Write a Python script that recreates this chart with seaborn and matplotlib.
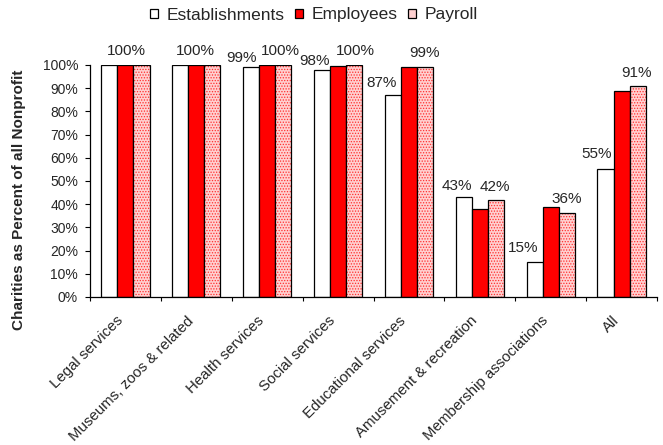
import matplotlib
matplotlib.use("Agg")
import matplotlib.pyplot as plt
import seaborn as sns
import pandas as pd
import numpy as np

categories = ["Legal services", "Museums, zoos & related", "Health services",
              "Social services", "Educational services", "Amusement & recreation",
              "Membership associations", "All"]
establishments = [100, 100, 99, 98, 87, 43, 15, 55]
employees = [100, 100, 100, 99.6, 99, 38, 39, 89]
payroll = [100, 100, 100, 100, 99, 42, 36, 91]
series = ["Establishments", "Employees", "Payroll"]
y_ticks = [0, 10, 20, 30, 40, 50, 60, 70, 80, 90, 100]

# value labels: (category index, series index, x shift px, gap above bar px)
labelled = [(0, 1, 1, 10), (1, 1, -1, 10), (2, 0, -10, 5), (2, 2, -3, 10),
            (3, 0, -7, 5), (3, 2, 1, 10), (4, 0, -11, 8), (4, 2, -1, 10),
            (5, 0, -7, 7), (5, 2, -1, 9), (6, 0, -11, 10), (6, 2, 0, 10),
            (7, 0, -9, 11), (7, 2, -1, 9)]

sns.set_theme(style="white")
plt.rcParams["font.family"] = ["Liberation Sans", "DejaVu Sans"]
plt.rcParams["hatch.linewidth"] = 0.6

df = pd.DataFrame({
    "category": categories * 3,
    "series": [s for s in series for _ in categories],
    "value": establishments + employees + payroll,
})

fig = plt.figure(figsize=(6.63, 4.45), dpi=100)
ax = fig.add_axes([90 / 663, 1 - 297 / 445, 567 / 663, 232 / 445])

palette = {"Establishments": "white", "Employees": "#ff0000", "Payroll": "#ffd0d0"}
sns.barplot(data=df, x="category", y="value", hue="series", order=categories,
            hue_order=series, palette=palette, width=0.68, gap=0,
            edgecolor="black", linewidth=0.9, saturation=1, ax=ax, legend=True)

# fine red dotted fill for the payroll bars
for bar in ax.containers[2]:
    bar.set_hatch("......")
    bar._hatch_color = matplotlib.colors.to_rgba("#ff3030")

values = [establishments, employees, payroll]
for ci, si, dx, gap in labelled:
    bar = ax.containers[si][ci]
    x = bar.get_x() + bar.get_width() / 2
    v = values[si][ci]
    ax.annotate(f"{round(v):d}%", xy=(x, bar.get_height()), xytext=(dx, gap),
                textcoords="offset pixels", ha="center", va="baseline",
                fontsize=11, annotation_clip=False)

ax.set_ylim(0, 100)
ax.set_xlim(-0.5, len(categories) - 0.5)
ax.set_yticks(y_ticks)
ax.set_yticklabels([f"{t}%" for t in y_ticks], fontsize=10)
# rotated category names sit slightly left of each group centre
ax.set_xticks(np.arange(len(categories)) - 0.14)
ax.set_xticklabels(categories, rotation=45, ha="right", va="top",
                   rotation_mode="anchor", fontsize=10.8)
ax.set_xticks(np.arange(-0.5, len(categories), 1), minor=True)
ax.tick_params(axis="x", which="major", length=0, pad=12)
ax.tick_params(axis="x", which="minor", length=3, width=0.8, color="black",
               direction="out", bottom=True)
ax.tick_params(axis="y", length=3.6, width=0.8, color="black", direction="out",
               left=True, pad=5)
ax.set_xlabel("")
ax.set_ylabel("Charities as Percent of all Nonprofit", fontsize=11,
              fontweight="bold")
ax.yaxis.set_label_coords(-0.113, 0.42)

for side in ["top", "right"]:
    ax.spines[side].set_visible(False)
for side in ["left", "bottom"]:
    ax.spines[side].set_color("black")
    ax.spines[side].set_linewidth(0.9)

handles, labels = ax.get_legend_handles_labels()
ax.get_legend().remove()
fig.legend(handles, labels, loc="center", bbox_to_anchor=(314 / 663, 1 - 15 / 445),
           ncol=3, frameon=False, fontsize=12.5, handlelength=0.45,
           handleheight=0.45, handletextpad=0.5, columnspacing=0.6,
           borderpad=0)

fig.savefig("out.png", dpi=100)
